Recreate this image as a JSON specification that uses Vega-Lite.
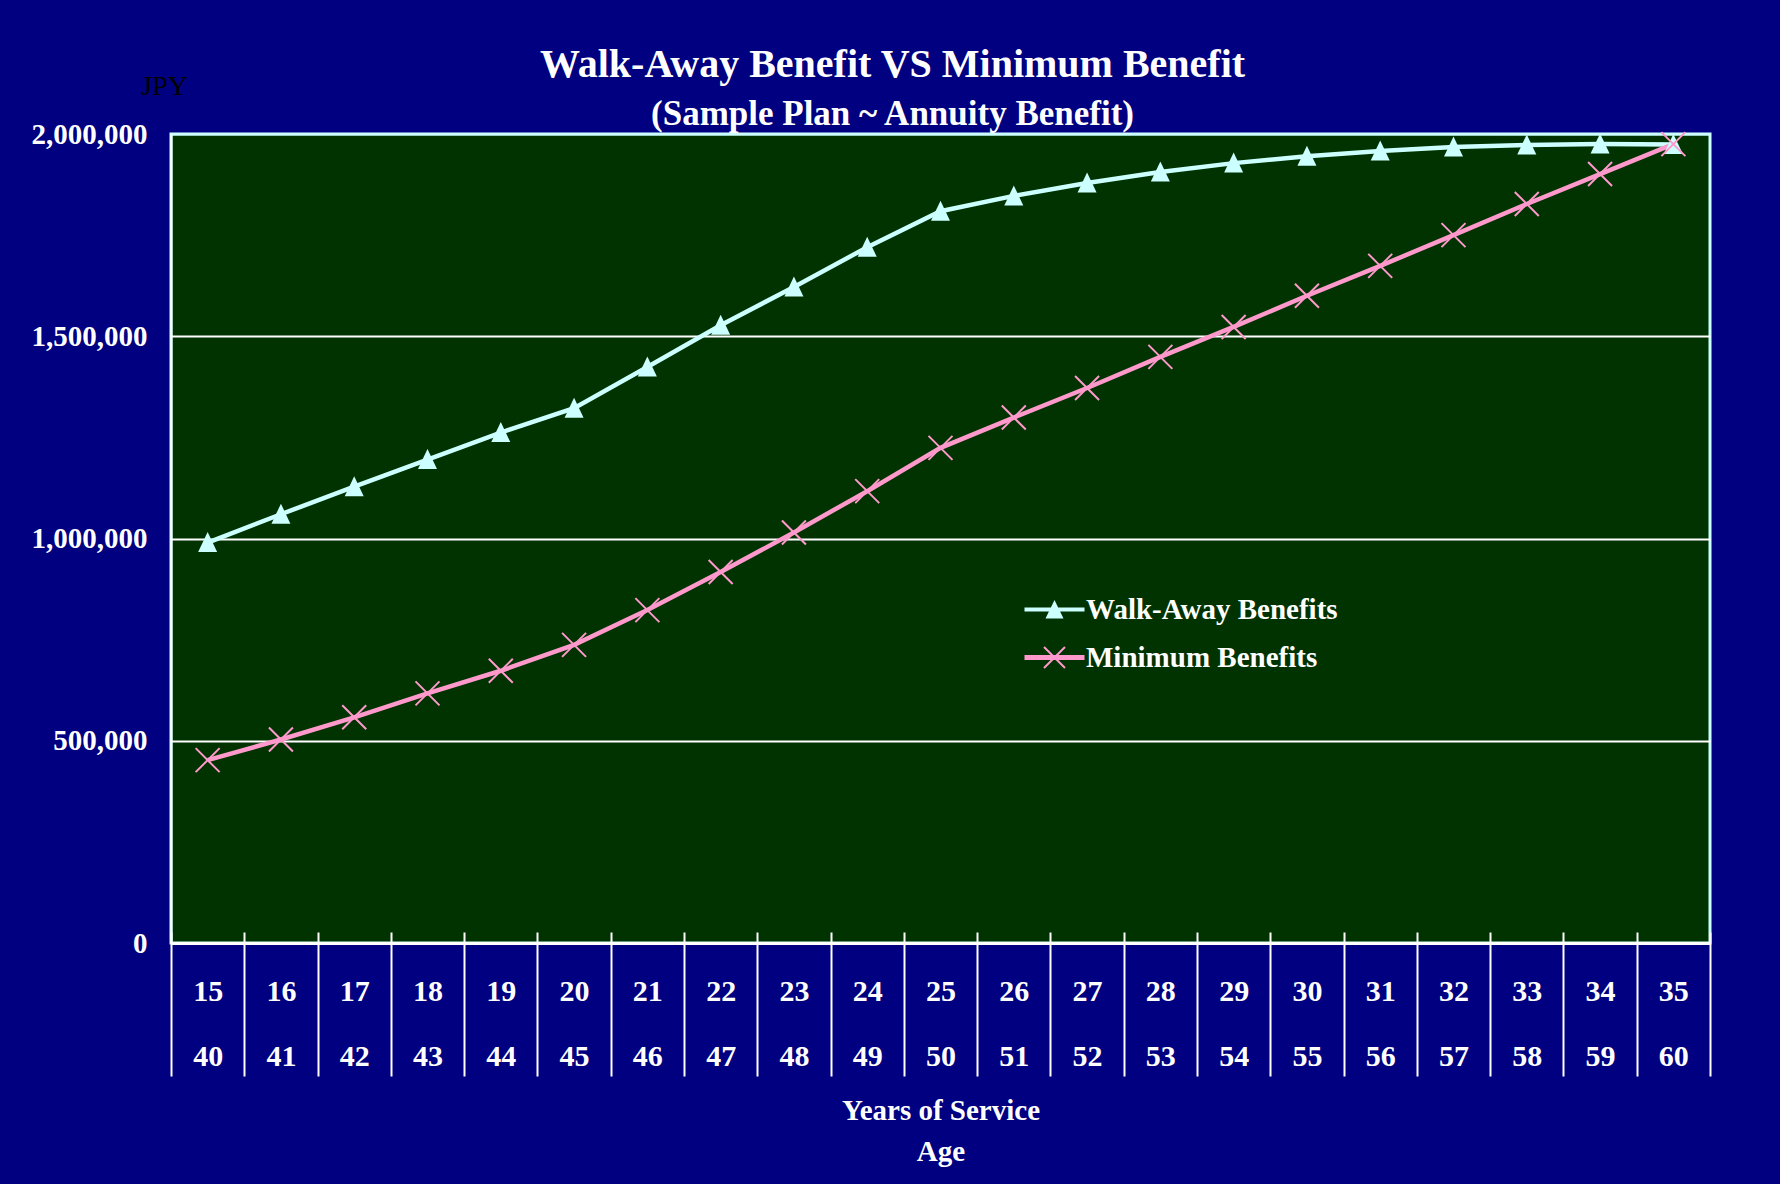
{
  "$schema": "https://vega.github.io/schema/vega-lite/v6.json",
  "autosize": "none",
  "width": 1539,
  "height": 809,
  "padding": {"left": 171, "top": 134, "right": 70, "bottom": 241},
  "background": "#000080",
  "view": {"fill": "#003300", "stroke": "#CCFFFF", "strokeWidth": 3},
  "title": {
    "text": "Walk-Away Benefit VS Minimum Benefit",
    "subtitle": "(Sample Plan ~ Annuity Benefit)",
    "font": "Liberation Serif",
    "fontSize": 40,
    "fontWeight": "bold",
    "color": "white",
    "subtitleFont": "Liberation Serif",
    "subtitleFontSize": 35,
    "subtitleFontWeight": "bold",
    "subtitleColor": "white",
    "subtitlePadding": 12,
    "anchor": "middle",
    "dx": -48,
    "dy": 62,
    "offset": 2
  },
  "data": {
    "values": [
      {"period": "15|40", "series": "Walk-Away Benefits", "value": 990000},
      {"period": "16|41", "series": "Walk-Away Benefits", "value": 1060000},
      {"period": "17|42", "series": "Walk-Away Benefits", "value": 1128000},
      {"period": "18|43", "series": "Walk-Away Benefits", "value": 1195000},
      {"period": "19|44", "series": "Walk-Away Benefits", "value": 1262000},
      {"period": "20|45", "series": "Walk-Away Benefits", "value": 1322000},
      {"period": "21|46", "series": "Walk-Away Benefits", "value": 1424000},
      {"period": "22|47", "series": "Walk-Away Benefits", "value": 1527000},
      {"period": "23|48", "series": "Walk-Away Benefits", "value": 1622000},
      {"period": "24|49", "series": "Walk-Away Benefits", "value": 1720000},
      {"period": "25|50", "series": "Walk-Away Benefits", "value": 1809000},
      {"period": "26|51", "series": "Walk-Away Benefits", "value": 1847000},
      {"period": "27|52", "series": "Walk-Away Benefits", "value": 1879000},
      {"period": "28|53", "series": "Walk-Away Benefits", "value": 1906000},
      {"period": "29|54", "series": "Walk-Away Benefits", "value": 1928000},
      {"period": "30|55", "series": "Walk-Away Benefits", "value": 1945000},
      {"period": "31|56", "series": "Walk-Away Benefits", "value": 1958000},
      {"period": "32|57", "series": "Walk-Away Benefits", "value": 1968000},
      {"period": "33|58", "series": "Walk-Away Benefits", "value": 1973000},
      {"period": "34|59", "series": "Walk-Away Benefits", "value": 1975000},
      {"period": "35|60", "series": "Walk-Away Benefits", "value": 1974000},
      {"period": "15|40", "series": "Minimum Benefits", "value": 452000},
      {"period": "16|41", "series": "Minimum Benefits", "value": 503000},
      {"period": "17|42", "series": "Minimum Benefits", "value": 558000},
      {"period": "18|43", "series": "Minimum Benefits", "value": 617000},
      {"period": "19|44", "series": "Minimum Benefits", "value": 673000},
      {"period": "20|45", "series": "Minimum Benefits", "value": 737000},
      {"period": "21|46", "series": "Minimum Benefits", "value": 823000},
      {"period": "22|47", "series": "Minimum Benefits", "value": 917000},
      {"period": "23|48", "series": "Minimum Benefits", "value": 1015000},
      {"period": "24|49", "series": "Minimum Benefits", "value": 1117000},
      {"period": "25|50", "series": "Minimum Benefits", "value": 1224000},
      {"period": "26|51", "series": "Minimum Benefits", "value": 1299000},
      {"period": "27|52", "series": "Minimum Benefits", "value": 1372000},
      {"period": "28|53", "series": "Minimum Benefits", "value": 1449000},
      {"period": "29|54", "series": "Minimum Benefits", "value": 1523000},
      {"period": "30|55", "series": "Minimum Benefits", "value": 1600000},
      {"period": "31|56", "series": "Minimum Benefits", "value": 1674000},
      {"period": "32|57", "series": "Minimum Benefits", "value": 1750000},
      {"period": "33|58", "series": "Minimum Benefits", "value": 1827000},
      {"period": "34|59", "series": "Minimum Benefits", "value": 1901000},
      {"period": "35|60", "series": "Minimum Benefits", "value": 1975000}
    ]
  },
  "encoding": {
    "x": {
      "field": "period",
      "type": "ordinal",
      "bandPosition": 0.5,
      "scale": {"type": "band", "paddingInner": 0, "paddingOuter": 0},
      "axis": {
        "title": ["Years of Service", "Age"],
        "titleFont": "Liberation Serif",
        "titleFontSize": 29,
        "titleFontWeight": "bold",
        "titleColor": "white",
        "titleLineHeight": 41,
        "titleBaseline": "top",
        "titleY": 153,
        "labelExpr": "split(datum.label, '|')",
        "labelAngle": 0,
        "labelFont": "Liberation Serif",
        "labelFontSize": 30,
        "labelFontWeight": "bold",
        "labelColor": "white",
        "labelLineHeight": 65,
        "labelPadding": -100,
        "labelBaseline": "top",
        "tickBand": "extent",
        "tickSize": 133,
        "tickWidth": 2,
        "tickColor": "white",
        "domainColor": "white",
        "domainWidth": 3,
        "grid": true,
        "gridColor": "white",
        "gridWidth": 2,
        "gridOpacity": 1,
        "gridDash": [11, 798],
        "gridDashOffset": 11
      }
    },
    "y": {
      "field": "value",
      "type": "quantitative",
      "scale": {"domain": [0, 2000000], "nice": false},
      "axis": {
        "values": [0, 500000, 1000000, 1500000, 2000000],
        "format": ",d",
        "labelFont": "Liberation Serif",
        "labelFontSize": 29,
        "labelFontWeight": "bold",
        "labelColor": "white",
        "labelPadding": 24,
        "ticks": false,
        "domainColor": "white",
        "domainWidth": 2,
        "grid": true,
        "gridColor": {"condition": {"test": "datum.value >= 2000000", "value": "#CCFFFF"}, "value": "white"},
        "gridWidth": 2,
        "gridOpacity": 1,
        "title": "JPY",
        "titleFont": "Liberation Serif",
        "titleFontSize": 28,
        "titleFontWeight": "normal",
        "titleColor": "black",
        "titleAngle": 0,
        "titleAlign": "center",
        "titleBaseline": "middle",
        "titleX": -7,
        "titleY": -48
      }
    }
  },
  "layer": [
    {
      "mark": {"type": "line", "strokeWidth": 4.5},
      "encoding": {
        "color": {
          "field": "series",
          "type": "nominal",
          "scale": {"domain": ["Walk-Away Benefits", "Minimum Benefits"], "range": ["#CCFFFF", "#FF99CC"]},
          "legend": null
        }
      }
    },
    {
      "mark": {"type": "point", "filled": true, "size": 400, "opacity": 1, "strokeWidth": 0},
      "encoding": {
        "color": {
          "field": "series",
          "type": "nominal",
          "scale": {"domain": ["Walk-Away Benefits", "Minimum Benefits"], "range": ["#CCFFFF", "#FF99CC"]},
          "legend": null
        },
        "shape": {
          "field": "series",
          "type": "nominal",
          "scale": {
            "domain": ["Walk-Away Benefits", "Minimum Benefits"],
            "range": [
              "M0,-1.05L0.95,0.95L-0.95,0.95Z",
              "M-1.27,-1.13L1.13,1.27L1.27,1.13L-1.13,-1.27ZM-1.13,1.27L1.27,-1.13L1.13,-1.27L-1.27,1.13Z"
            ]
          },
          "legend": null
        }
      }
    },
    {
      "data": {"values": []},
      "mark": {"type": "point", "filled": true, "size": 400, "opacity": 1, "strokeWidth": 0},
      "encoding": {
        "color": {
          "field": "series",
          "type": "nominal",
          "scale": {"domain": ["Walk-Away Benefits", "Minimum Benefits"], "range": ["#CCFFFF", "#FF99CC"]},
          "legend": {
            "title": null,
            "orient": "none",
            "legendX": 869,
            "legendY": 461,
            "padding": 0,
            "symbolSize": 400,
            "symbolOpacity": 1,
            "labelOffset": 17,
            "labelLimit": 500,
            "rowPadding": 18,
            "labelFont": "Liberation Serif",
            "labelFontSize": 29,
            "labelFontWeight": "bold",
            "labelColor": "white"
          }
        },
        "shape": {
          "field": "series",
          "type": "nominal",
          "scale": {
            "domain": ["Walk-Away Benefits", "Minimum Benefits"],
            "range": [
              "M-3,-0.2H3V0.2H-3ZM0,-0.95L0.9,0.9L-0.9,0.9Z",
              "M-3,-0.25V0.25H3V-0.25ZM-1.12,-0.98L0.98,1.12L1.12,0.98L-0.98,-1.12ZM-0.98,1.12L1.12,-0.98L0.98,-1.12L-1.12,0.98Z"
            ]
          },
          "legend": {
            "title": null,
            "orient": "none",
            "legendX": 869,
            "legendY": 461,
            "padding": 0,
            "symbolSize": 400,
            "symbolOpacity": 1,
            "labelOffset": 17,
            "labelLimit": 500,
            "rowPadding": 18,
            "labelFont": "Liberation Serif",
            "labelFontSize": 29,
            "labelFontWeight": "bold",
            "labelColor": "white"
          }
        }
      }
    }
  ],
  "resolve": {"scale": {"shape": "independent", "color": "independent"}}
}
